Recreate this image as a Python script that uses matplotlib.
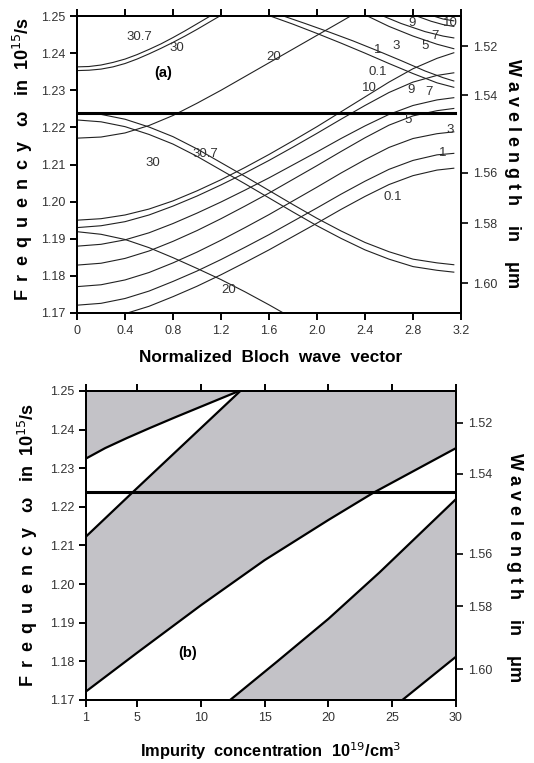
import matplotlib.pyplot as plt
import numpy as np

plt.rcParams['font.family'] = ['Liberation Sans', 'DejaVu Sans']

# ---- panel (a): band diagram, frequency vs normalized Bloch wave vector ----
k_pts = [0, 0.2, 0.4, 0.6, 0.8, 1.0, 1.2, 1.4, 1.6, 1.8, 2.0, 2.2, 2.4, 2.6, 2.8, 3.0, 3.14]

# lower (rising) bands, one per impurity concentration
rise_01 = [1.1680, 1.1685, 1.1698, 1.1718, 1.1744, 1.1772, 1.1803, 1.1836, 1.1870,
           1.1906, 1.1942, 1.1979, 1.2014, 1.2046, 1.2070, 1.2085, 1.2090]
rise_1 = [1.1721, 1.1726, 1.1739, 1.1759, 1.1785, 1.1813, 1.1844, 1.1877, 1.1911,
          1.1947, 1.1983, 1.2020, 1.2055, 1.2087, 1.2111, 1.2126, 1.2130]
rise_3 = [1.1771, 1.1776, 1.1789, 1.1809, 1.1835, 1.1864, 1.1896, 1.1930, 1.1965,
          1.2002, 1.2039, 1.2077, 1.2113, 1.2146, 1.2170, 1.2183, 1.2188]
rise_5 = [1.1829, 1.1834, 1.1847, 1.1867, 1.1893, 1.1922, 1.1954, 1.1988, 1.2023,
          1.2060, 1.2097, 1.2135, 1.2172, 1.2206, 1.2231, 1.2245, 1.2251]
rise_7 = [1.1880, 1.1885, 1.1897, 1.1916, 1.1941, 1.1969, 1.1999, 1.2031, 1.2064,
          1.2099, 1.2134, 1.2170, 1.2204, 1.2235, 1.2259, 1.2274, 1.2280]
rise_9 = [1.1930, 1.1935, 1.1946, 1.1964, 1.1988, 1.2015, 1.2045, 1.2077, 1.2111,
          1.2147, 1.2184, 1.2222, 1.2259, 1.2294, 1.2322, 1.2340, 1.2347]
rise_10 = [1.1950, 1.1954, 1.1964, 1.1980, 1.2002, 1.2029, 1.2059, 1.2092, 1.2127,
           1.2164, 1.2202, 1.2242, 1.2282, 1.2322, 1.2358, 1.2386, 1.2401]

# concentrations 30 and 30.7, falling band
fall_30 = [1.2220, 1.2215, 1.2202, 1.2181, 1.2155, 1.2122, 1.2085, 1.2048, 1.2010,
           1.1972, 1.1935, 1.1901, 1.1870, 1.1845, 1.1825, 1.1815, 1.1810]
fall_307 = [1.2240, 1.2235, 1.2222, 1.2201, 1.2175, 1.2142, 1.2105, 1.2068, 1.2030,
            1.1992, 1.1955, 1.1921, 1.1890, 1.1865, 1.1845, 1.1835, 1.1830]

# upper (falling) bands for the low concentrations
fall_01_k = [1.61, 1.8, 2.0, 2.2, 2.4, 2.6, 2.8, 3.0, 3.14]
fall_01_w = [1.2500, 1.2478, 1.2453, 1.2427, 1.2400, 1.2372, 1.2345, 1.2320, 1.2308]
fall_1_k = [1.72, 1.9, 2.1, 2.3, 2.5, 2.7, 2.9, 3.05, 3.14]
fall_1_w = [1.2500, 1.2480, 1.2457, 1.2433, 1.2407, 1.2380, 1.2352, 1.2334, 1.2325]
fall_3_k = [2.42, 2.6, 2.8, 3.0, 3.14]
fall_3_w = [1.2500, 1.2472, 1.2446, 1.2424, 1.2412]
fall_5_k = [2.55, 2.7, 2.9, 3.05, 3.14]
fall_5_w = [1.2500, 1.2480, 1.2458, 1.2446, 1.2441]
fall_7_k = [2.83, 2.95, 3.05, 3.14]
fall_7_w = [1.2500, 1.2486, 1.2477, 1.2472]
fall_10_k = [2.97, 3.05, 3.14]
fall_10_w = [1.2500, 1.2492, 1.2487]

# concentration 20
rise_20_k = [0, 0.2, 0.4, 0.6, 0.8, 1.0, 1.2, 1.4, 1.6, 1.8, 2.0, 2.2, 2.28]
rise_20_w = [1.2171, 1.2174, 1.2185, 1.2205, 1.2232, 1.2265, 1.2300, 1.2337, 1.2374,
             1.2411, 1.2448, 1.2485, 1.2500]
fall_20_k = [0, 0.2, 0.4, 0.6, 0.8, 1.0, 1.2, 1.4, 1.6, 1.72]
fall_20_w = [1.1919, 1.1912, 1.1898, 1.1876, 1.1849, 1.1820, 1.1790, 1.1757, 1.1722, 1.1700]

# concentrations 30 and 30.7, rising band
rise_30_k = [0, 0.1, 0.2, 0.3, 0.4, 0.5, 0.6, 0.7, 0.8, 0.9, 1.0, 1.1, 1.19]
rise_30_w = [1.2353, 1.2354, 1.2357, 1.2363, 1.2372, 1.2384, 1.2398, 1.2413, 1.2429,
             1.2446, 1.2464, 1.2483, 1.2500]
rise_307_k = [0, 0.1, 0.2, 0.3, 0.4, 0.5, 0.6, 0.7, 0.8, 0.9, 1.0, 1.1, 1.11]
rise_307_w = [1.2363, 1.2364, 1.2368, 1.2375, 1.2384, 1.2396, 1.2410, 1.2425, 1.2442,
              1.2460, 1.2479, 1.2498, 1.2500]

# curve labels: text, k, omega
lab_a_text = ['30.7', '30', '20', '9', '10', '7', '5', '3', '1', '0.1',
              '10', '9', '7', '5', '3', '1', '0.1', '30', '30.7', '20']
lab_a_k = [0.52, 0.83, 1.64, 2.79, 3.11, 2.98, 2.90, 2.66, 2.51, 2.51,
           2.44, 2.78, 2.93, 2.76, 3.11, 3.05, 2.63, 0.63, 1.07, 1.26]
lab_a_w = [1.2444, 1.2413, 1.2390, 1.2480, 1.2482, 1.2446, 1.2420, 1.2419, 1.2408, 1.2350,
           1.2305, 1.2301, 1.2296, 1.2220, 1.2193, 1.2131, 1.2013, 1.2104, 1.2128, 1.1762]

# ---- panel (b): band/gap map vs impurity concentration ----
line_a_c = [1, 2.5, 4.2, 6, 8, 10.5, 13.0]
line_a_w = [1.2325, 1.2352, 1.2378, 1.2404, 1.2432, 1.2466, 1.2500]
line_b_c = [1, 4.7, 13.1]
line_b_w = [1.2123, 1.2239, 1.2500]
line_c_c = [1, 5, 10, 15, 20, 23.5, 30]
line_c_w = [1.1722, 1.1822, 1.1945, 1.2062, 1.2166, 1.2236, 1.2352]
line_d_c = [12.3, 16, 20, 24, 30]
line_d_w = [1.1700, 1.1800, 1.1910, 1.2030, 1.2220]
line_e_c = [25.8, 30]
line_e_w = [1.1700, 1.1812]

omega_op = 1.2238  # operating frequency (1.54 um)

wl_ticks = [1.2418, 1.2286, 1.2078, 1.1942, 1.1780]
wl_labels = ['1.52', '1.54', '1.56', '1.58', '1.60']
freq_ticks = [1.17, 1.18, 1.19, 1.20, 1.21, 1.22, 1.23, 1.24, 1.25]
kx_ticks = [0, 0.4, 0.8, 1.2, 1.6, 2.0, 2.4, 2.8, 3.2]
conc_ticks = [1, 5, 10, 15, 20, 25, 30]

gray = '#c3c2c7'
tick_col = '#333333'
ylab = ' \u2009'.join('Frequency') + '   \u03c9   in  10$^{15}$/s'
rlab = 'W a v e l e n g t h    in    \u03bcm'


def style_axes(ax, rax):
    for a in (ax, rax):
        for s in a.spines.values():
            s.set_linewidth(1.4)
    ax.tick_params(direction='out', length=5, width=1.4, labelsize=9,
                   labelcolor=tick_col, top=True, right=False)
    rax.tick_params(direction='out', length=5, width=1.2, labelsize=9,
                    labelcolor=tick_col, pad=4)
    ax.set_ylim(1.17, 1.25)
    ax.set_yticks(freq_ticks)
    ax.set_yticklabels([f"{v:.2f}" for v in freq_ticks])
    rax.set_ylim(1.17, 1.25)
    rax.set_yticks(wl_ticks)
    rax.set_yticklabels(wl_labels)


fig = plt.figure(figsize=(5.34, 7.63), dpi=100)

# ---------------- (a) ----------------
ax1 = fig.add_axes([0.1442, 0.5898, 0.7191, 0.3892])
lc = '#222222'
lw = 0.8
for w in (rise_01, rise_1, rise_3, rise_5, rise_7, rise_9, rise_10, fall_30, fall_307):
    ax1.plot(k_pts, w, color=lc, lw=lw)
for kk, w in ((fall_01_k, fall_01_w), (fall_1_k, fall_1_w), (fall_3_k, fall_3_w),
              (fall_5_k, fall_5_w), (fall_7_k, fall_7_w), (fall_10_k, fall_10_w),
              (rise_20_k, rise_20_w), (fall_20_k, fall_20_w),
              (rise_30_k, rise_30_w), (rise_307_k, rise_307_w)):
    ax1.plot(kk, w, color=lc, lw=lw)
ax1.axhline(omega_op, xmin=0, xmax=0.985, color='black', lw=2.2)

for t, x, y in zip(lab_a_text, lab_a_k, lab_a_w):
    ax1.text(x, y, t, fontsize=9.5, color='#333333', ha='center', va='center')
ax1.text(0.72, 1.2346, '(a)', fontsize=10.5, fontweight='bold', ha='center', va='center')

ax1.set_xlim(0, 3.2)
ax1.set_xticks(kx_ticks)
ax1.set_xticklabels(['0', '0.4', '0.8', '1.2', '1.6', '2.0', '2.4', '2.8', '3.2'])
ax1.set_xlabel('Normalized  Bloch  wave  vector', fontsize=12.4, fontweight='bold')
ax1.xaxis.set_label_coords(0.503, -0.125)
ax1.set_ylabel(ylab, fontsize=13, fontweight='bold')
ax1.yaxis.set_label_coords(-0.11, 0.52)
rax1 = ax1.twinx()
style_axes(ax1, rax1)
rax1.set_ylabel(rlab, fontsize=13, fontweight='bold', rotation=-90)
rax1.yaxis.set_label_coords(1.155, 0.47)

# ---------------- (b) ----------------
ax2 = fig.add_axes([0.161, 0.0826, 0.6929, 0.405])
ax2.set_facecolor(gray)
# white (allowed) regions
ax2.fill(line_a_c + line_b_c[::-1], line_a_w + line_b_w[::-1], color='white', lw=0)
ax2.fill(line_c_c + [30] + line_d_c[::-1] + [1],
         line_c_w + [line_d_w[-1]] + line_d_w[::-1] + [1.17],
         color='white', lw=0)
ax2.fill(line_e_c + [30], line_e_w + [1.17], color='white', lw=0)
for cc, w in ((line_a_c, line_a_w), (line_b_c, line_b_w), (line_c_c, line_c_w),
              (line_d_c, line_d_w), (line_e_c, line_e_w)):
    ax2.plot(cc, w, color='black', lw=1.6)
ax2.axhline(omega_op, color='black', lw=2.2)
ax2.text(9.0, 1.1822, '(b)', fontsize=10.5, fontweight='bold', ha='center', va='center')

ax2.set_xlim(1, 30)
ax2.set_xticks(conc_ticks)
ax2.set_xlabel('Impurity  concentration  10$^{19}$/cm$^{3}$', fontsize=11.8,
               fontweight='bold')
ax2.xaxis.set_label_coords(0.5, -0.13)
ax2.set_ylabel(ylab, fontsize=13, fontweight='bold')
ax2.yaxis.set_label_coords(-0.124, 0.5)
rax2 = ax2.twinx()
style_axes(ax2, rax2)
rax2.set_ylabel(rlab, fontsize=13, fontweight='bold', rotation=-90)
rax2.yaxis.set_label_coords(1.18, 0.43)

fig.savefig('out.png', dpi=100)
